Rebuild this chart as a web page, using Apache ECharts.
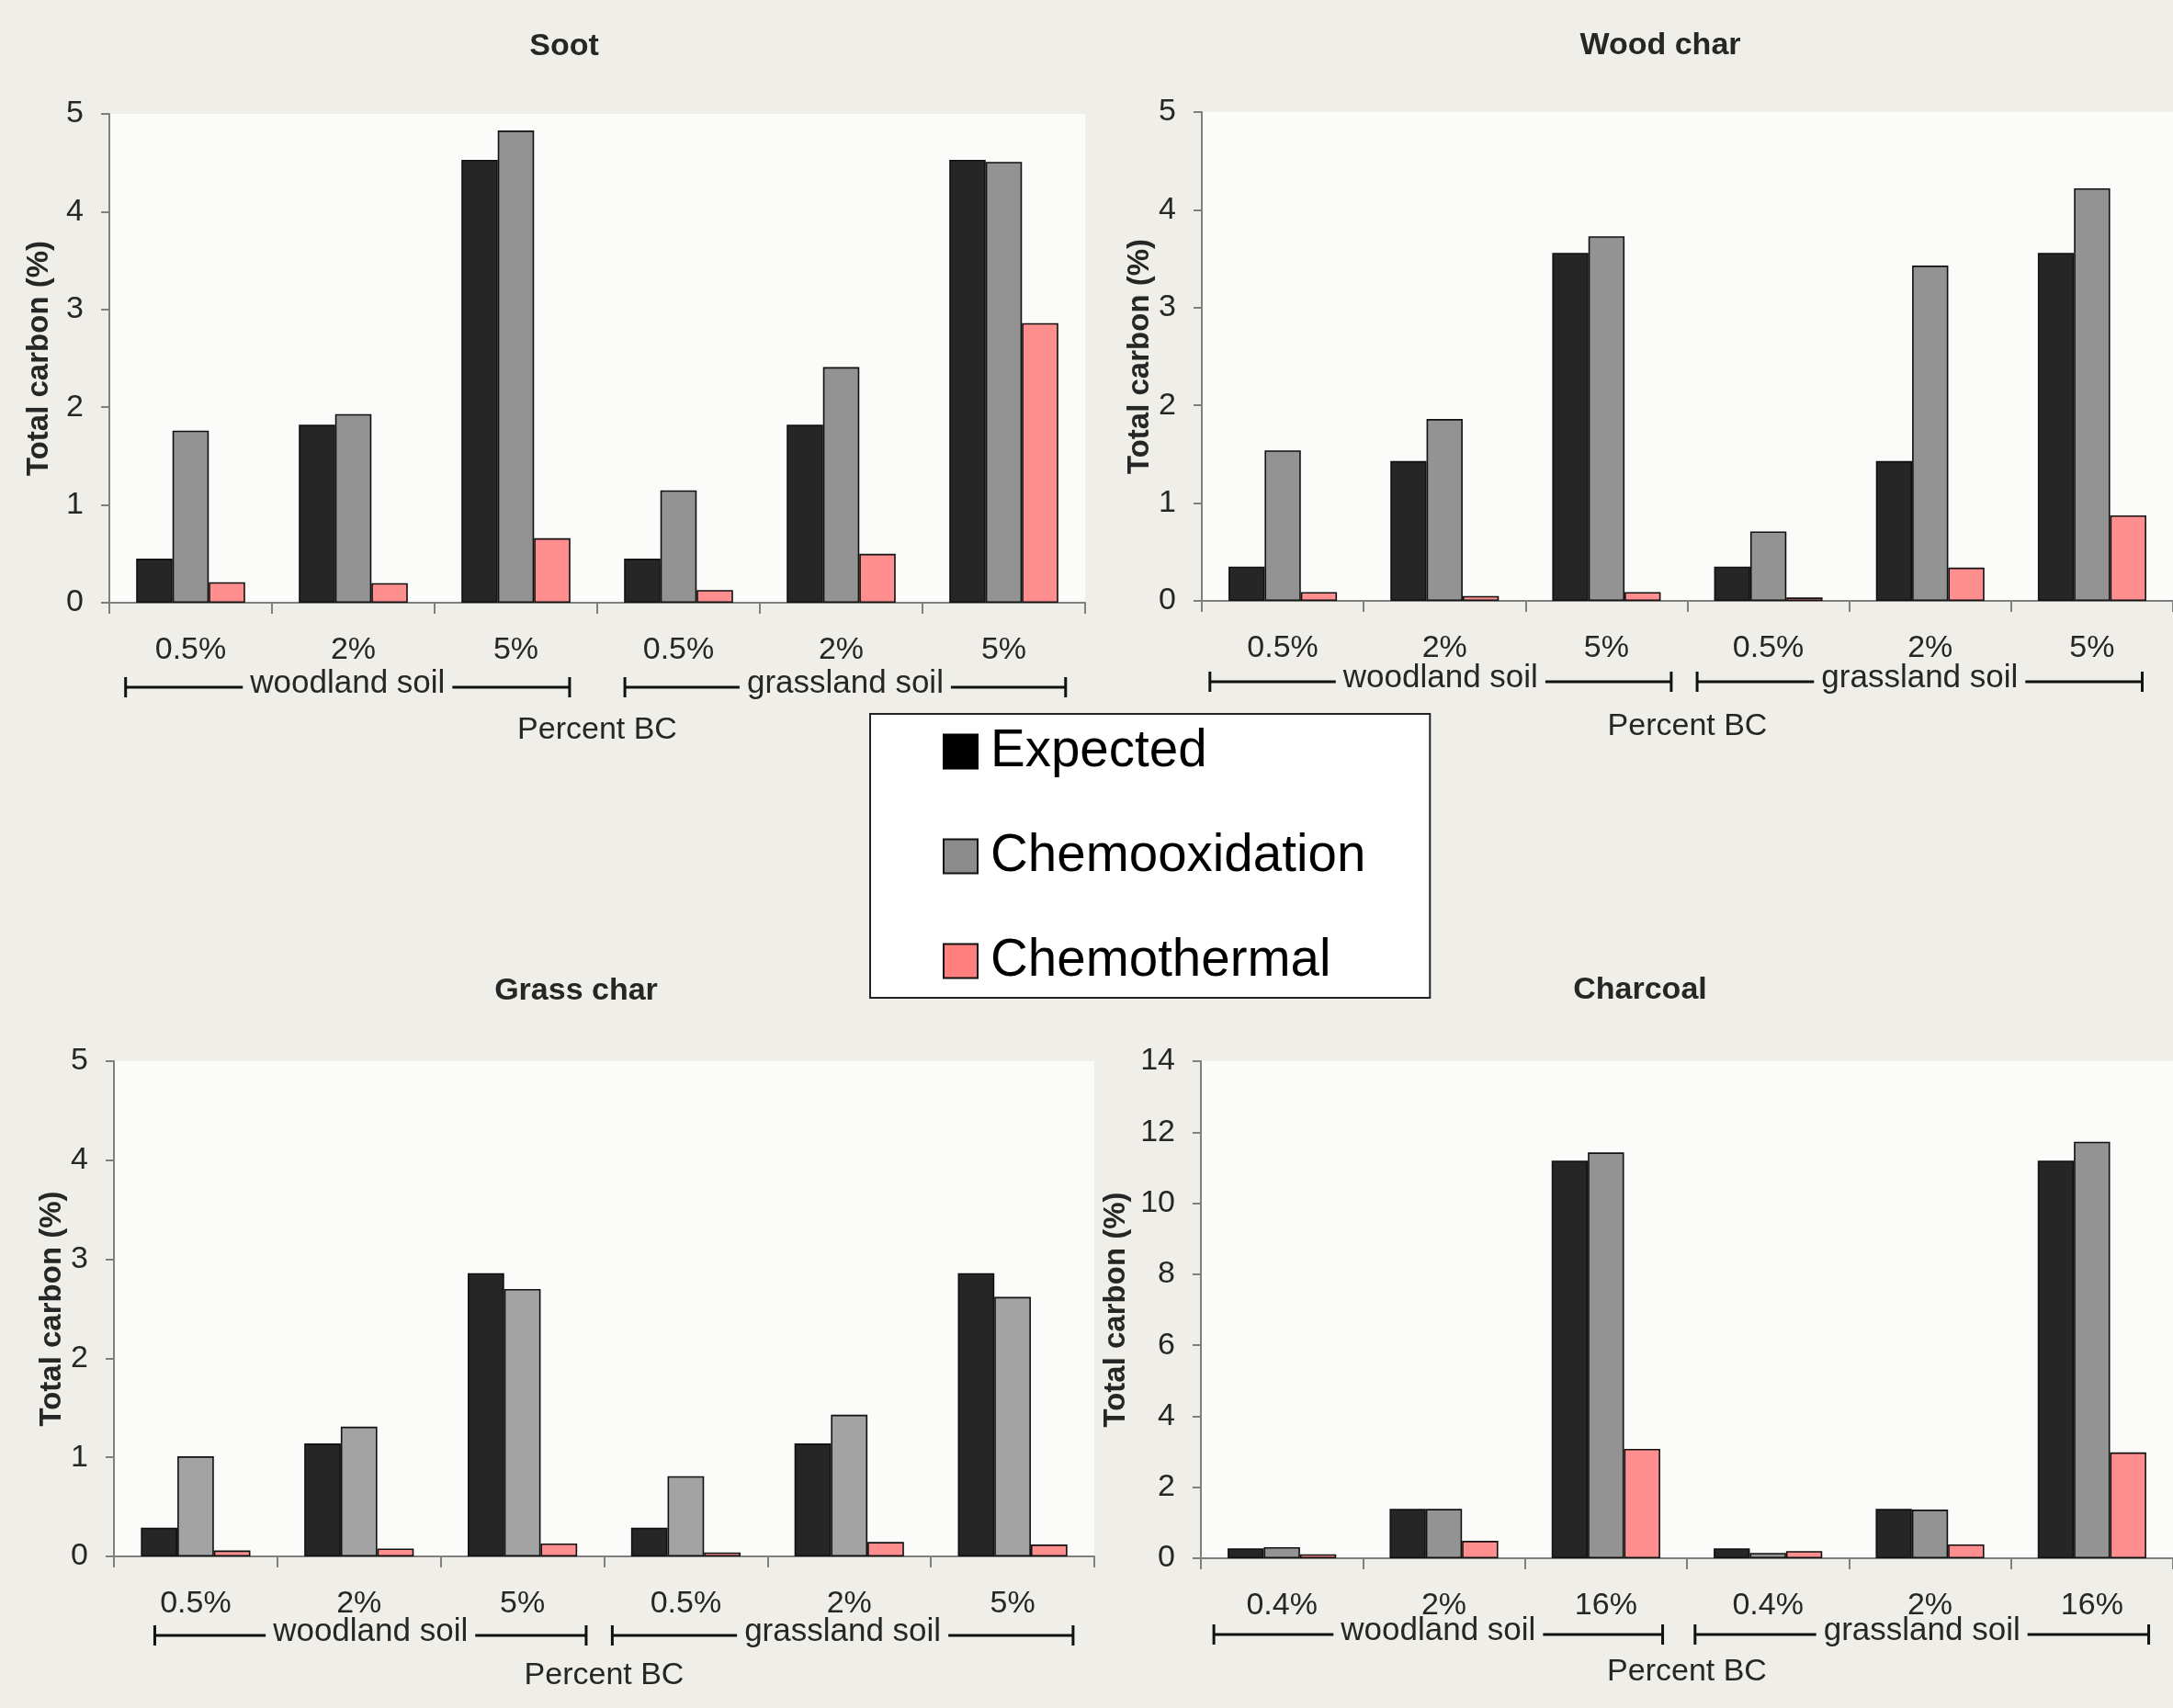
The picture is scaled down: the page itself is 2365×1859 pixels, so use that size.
<!DOCTYPE html>
<html>
<head>
<meta charset="utf-8">
<script src="https://cdn.jsdelivr.net/npm/echarts@6/dist/echarts.min.js"></script>
<style>
html,body{margin:0;padding:0;background:#efeee9;}
#c{width:2365px;height:1859px;}
</style>
</head>
<body>
<div id="c"></div>
<script>
// ---------------- DATA ----------------
const seriesNames = ['Expected', 'Chemooxidation', 'Chemothermal'];
const panelTitles = ['Soot', 'Wood char', 'Grass char', 'Charcoal'];
const catsStd = ['0.5%', '2%', '5%', '0.5%', '2%', '5%'];
const catsCharcoal = ['0.4%', '2%', '16%', '0.4%', '2%', '16%'];
const groupLabels = ['woodland soil', 'grassland soil'];
const xAxisTitle = 'Percent BC';
const yAxisTitle = 'Total carbon (%)';

const sootExpected = [0.45, 1.82, 4.53, 0.45, 1.82, 4.53];
const sootChemoox  = [1.76, 1.93, 4.83, 1.15, 2.41, 4.51];
const sootChemoth  = [0.21, 0.20, 0.66, 0.13, 0.50, 2.86];

const woodExpected = [0.35, 1.43, 3.56, 0.35, 1.43, 3.56];
const woodChemoox  = [1.54, 1.86, 3.73, 0.71, 3.43, 4.22];
const woodChemoth  = [0.09, 0.05, 0.09, 0.035, 0.34, 0.875];

const grassExpected = [0.29, 1.14, 2.86, 0.29, 1.14, 2.86];
const grassChemoox  = [1.01, 1.31, 2.70, 0.81, 1.43, 2.62];
const grassChemoth  = [0.06, 0.08, 0.13, 0.04, 0.145, 0.12];

const charcoalExpected = [0.28, 1.39, 11.2, 0.28, 1.39, 11.2];
const charcoalChemoox  = [0.31, 1.39, 11.43, 0.15, 1.37, 11.73];
const charcoalChemoth  = [0.11, 0.49, 3.08, 0.20, 0.39, 2.98];

const yMax = [5, 5, 5, 14];
const yInterval = [1, 1, 1, 2];

// ---------------- LAYOUT / STYLE ----------------
const FONT = '"Liberation Sans", Arial, sans-serif';
const panels = [
  {grid:{left:119, top:124, width:1062, height:532}, cats:catsStd,
   data:[sootExpected, sootChemoox, sootChemoth], nameGapX:122, nameGapY:60,
   title:[614, 51], brackets:[[0.10,0.17],[0.17,0.12]], brY:92, gray:'#939393'},
  {grid:{left:1308, top:122, width:1061, height:532}, cats:catsStd,
   data:[woodExpected, woodChemoox, woodChemoth], nameGapX:120, nameGapY:44,
   title:[1807, 50], brackets:[[0.05,0.10],[0.06,0.19]], brY:88, gray:'#939393'},
  {grid:{left:124, top:1155, width:1067, height:539}, cats:catsStd,
   data:[grassExpected, grassChemoox, grassChemoth], nameGapX:113, nameGapY:50,
   title:[627, 1079], brackets:[[0.25,0.11],[0.05,0.13]], brY:86, gray:'#a3a3a3'},
  {grid:{left:1307, top:1155, width:1063, height:541}, cats:catsCharcoal,
   data:[charcoalExpected, charcoalChemoox, charcoalChemoth], nameGapX:107, nameGapY:76,
   title:[1785, 1078], brackets:[[0.08,0.15],[0.05,0.15]], brY:83, gray:'#939393'}
];
const barColors = ['#262626', null, '#ff8f8f'];
const axisGray = '#7f7f7f';
const textCol = '#262626';

const grids = [], xAxes = [], yAxes = [], series = [];
panels.forEach((p, i) => {
  grids.push(Object.assign({show:true, backgroundColor:'#fbfbf9', borderWidth:0, containLabel:false}, p.grid));
  xAxes.push({
    type:'category', gridIndex:i, data:p.cats,
    axisLine:{show:true, lineStyle:{color:axisGray, width:2}},
    axisTick:{show:true, alignWithLabel:false, length:12, lineStyle:{color:axisGray, width:2}},
    axisLabel:{margin:35, fontSize:34, fontFamily:FONT, color:textCol, interval:0},
    name:xAxisTitle, nameLocation:'middle', nameGap:p.nameGapX,
    nameTextStyle:{fontSize:34, fontFamily:FONT, color:textCol}
  });
  yAxes.push({
    type:'value', gridIndex:i, min:0, max:yMax[i], interval:yInterval[i],
    splitLine:{show:false},
    axisLine:{show:true, lineStyle:{color:axisGray, width:2}},
    axisTick:{show:true, length:9, lineStyle:{color:axisGray, width:2}},
    axisLabel:{margin:28, fontSize:34, fontFamily:FONT, color:textCol},
    name:yAxisTitle, nameLocation:'middle', nameGap:p.nameGapY, nameRotate:90,
    nameTextStyle:{fontSize:33, fontWeight:'bold', fontFamily:FONT, color:textCol}
  });
  seriesNames.forEach((sn, k) => {
    series.push({
      type:'bar', name:sn, xAxisIndex:i, yAxisIndex:i, data:p.data[k],
      barGap:'0%', barCategoryGap:'33%',
      itemStyle:{color: k === 1 ? p.gray : barColors[k], borderColor:'#111', borderWidth:1.6},
      emphasis:{disabled:true}, animation:false
    });
  });
});

const chart = echarts.init(document.getElementById('c'), null, {renderer:'canvas'});
chart.setOption({
  backgroundColor:'#efeee9',
  animation:false,
  grid:grids, xAxis:xAxes, yAxis:yAxes, series:series,
  legend:{
    show:true, orient:'vertical', left:947, top:777,
    backgroundColor:'#ffffff', borderColor:'#222', borderWidth:2,
    padding:[11, 70, 10, 79],
    itemWidth:37, itemHeight:37, itemGap:54, icon:'rect',
    selectedMode:false,
    textStyle:{fontSize:56.5, fontFamily:FONT, color:'#000', lineHeight:60, padding:[0,0,0,9]},
    data:[
      {name:'Expected', itemStyle:{color:'#000000', borderColor:'#000', borderWidth:2}},
      {name:'Chemooxidation', itemStyle:{color:'#8c8c8c', borderColor:'#111', borderWidth:2}},
      {name:'Chemothermal', itemStyle:{color:'#ff7f7f', borderColor:'#111', borderWidth:2}}
    ]
  }
});

// ---------------- ANNOTATIONS (titles, group brackets) ----------------
const graphics = [];
panels.forEach((p, i) => {
  graphics.push({
    type:'text', x:p.title[0], y:p.title[1],
    style:{text:panelTitles[i], fontSize:34, fontWeight:'bold', fontFamily:FONT,
           fill:textCol, textAlign:'center', textVerticalAlign:'middle'}
  });
  const c0 = chart.convertToPixel({xAxisIndex:i, yAxisIndex:i}, [0, 0]);
  const c1 = chart.convertToPixel({xAxisIndex:i, yAxisIndex:i}, [1, 0]);
  const w = c1[0] - c0[0];
  const baseY = c0[1];
  const ly = baseY + p.brY;
  [[0, 2], [3, 5]].forEach((rng, g) => {
    const cs = chart.convertToPixel({xAxisIndex:i, yAxisIndex:i}, [rng[0], 0])[0];
    const ce = chart.convertToPixel({xAxisIndex:i, yAxisIndex:i}, [rng[1], 0])[0];
    const x1 = cs - w / 2 + p.brackets[g][0] * w;
    const x2 = ce + w / 2 - p.brackets[g][1] * w;
    graphics.push({type:'line', shape:{x1:x1, y1:ly, x2:x2, y2:ly}, style:{stroke:'#111', lineWidth:3}});
    graphics.push({type:'line', shape:{x1:x1, y1:ly - 11, x2:x1, y2:ly + 11}, style:{stroke:'#111', lineWidth:3}});
    graphics.push({type:'line', shape:{x1:x2, y1:ly - 11, x2:x2, y2:ly + 11}, style:{stroke:'#111', lineWidth:3}});
    graphics.push({
      type:'text', x:(x1 + x2) / 2, y:ly - 4, z:10,
      style:{text:groupLabels[g], fontSize:35, fontFamily:FONT, fill:textCol,
             textAlign:'center', textVerticalAlign:'middle',
             backgroundColor:'#efeee9', padding:[0, 8, 0, 8]}
    });
  });
});
chart.setOption({graphic:graphics});
</script>
</body>
</html>
